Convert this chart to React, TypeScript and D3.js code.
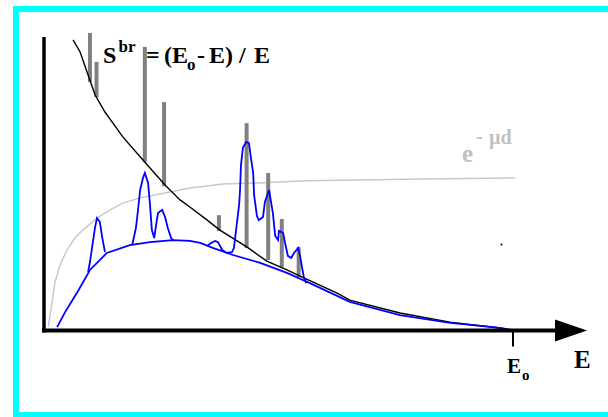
import React from 'react';
import * as d3 from 'd3';

// E runs from 0 to E0 (=100, arbitrary units), intensity 0..100
const E0 = 100;

// characteristic lines (gray bars): energy, top, and foot on the S^br curve
const lineEnergy = [9.8, 11.2, 21.5, 25.6, 37.3, 43.2, 47.8, 50.7, 54.3];
const lineTop = [101.4, 91.5, 96.6, 77.8, 39.2, 70.6, 53.6, 37.9, 28.3];
const lineBase = [84.6, 79.5, 57.3, 49.1, 33.8, 28.0, 23.9, 21.5, 18.1];

// S^br = (E0 - E) / E  (black)
const bremsCurve: [number, number][] = [
  [6.2, 99.0], [7.7, 94.9], [9.4, 87.0], [10.9, 80.2], [13.0, 74.4], [14.7, 70.6],
  [16.8, 65.9], [21.1, 58.0], [25.8, 49.5], [29.0, 44.4], [31.1, 42.0], [34.8, 37.5],
  [37.5, 34.1], [43.3, 28.3], [47.5, 23.5], [51.8, 20.5], [54.6, 18.4], [62.5, 12.6],
  [65.2, 10.2], [75.9, 5.8], [86.6, 2.7], [97.2, 0.7], [100, 0],
];

// e^-μd attenuation (light gray)
const attenuation: [number, number][] = [
  [0.9, 1.0], [1.3, 5.1], [2.3, 16.0], [3.4, 22.2], [4.9, 27.3], [6.6, 31.4],
  [8.3, 34.1], [11.3, 38.2], [14.1, 41.0], [16.8, 43.3], [20.5, 45.1], [26.9, 47.1],
  [31.1, 48.5], [38.2, 49.8], [45.6, 50.2], [56.1, 50.9], [80.8, 51.5], [100.4, 51.9],
];

// measured continuum (blue)
const continuum: [number, number][] = [
  [2.8, 1.0], [4.5, 6.1], [7.0, 12.6], [9.8, 20.5], [13.4, 26.3], [18.3, 29.0],
  [22.6, 30.0], [27.5, 30.7], [31.1, 30.4], [33.3, 29.7], [36.0, 28.0], [40.3, 25.6],
  [46.1, 22.9], [51.8, 19.5], [56.7, 16.0], [65.2, 9.6], [75.9, 5.1], [86.6, 2.4],
  [97.2, 0.7], [98.7, 0.3],
];

// measured peaks (blue) on top of the continuum
const peakA: [number, number][] = [
  [9.4, 19.8], [9.8, 23.2], [10.4, 29.7], [10.9, 35.2], [11.3, 38.2], [11.9, 36.9],
  [12.4, 31.7], [13.0, 26.6],
];
const peakBC: [number, number][] = [
  [18.8, 29.0], [19.6, 34.8], [20.0, 40.3], [20.5, 47.8], [21.1, 51.9], [21.5, 53.6],
  [22.2, 50.2], [22.6, 42.7], [23.0, 34.1], [23.5, 31.4], [23.9, 35.8], [24.3, 39.9],
  [25.2, 41.0], [25.8, 38.6], [26.4, 34.8], [27.1, 31.4], [27.5, 30.7],
];
const peakD: [number, number][] = [
  [34.8, 28.7], [35.6, 29.7], [36.5, 30.4], [37.1, 30.0], [38.0, 27.3], [39.0, 26.3],
  [40.1, 26.6], [40.5, 28.0], [40.9, 33.4], [41.6, 42.7], [41.8, 47.8], [42.0, 56.3],
  [42.4, 62.1], [43.1, 64.2], [43.7, 63.8], [44.1, 59.0], [44.6, 53.6], [44.8, 46.1],
  [45.4, 38.9], [45.8, 37.5], [46.7, 38.6], [47.1, 43.7], [48.0, 47.8], [48.2, 45.7],
  [48.8, 39.9], [49.3, 32.1], [49.9, 30.7], [50.1, 33.8], [51.0, 33.1], [51.4, 29.7],
  [52.0, 25.3], [52.7, 24.6], [53.3, 26.3], [54.2, 28.0], [54.6, 25.3], [55.0, 21.5],
  [55.4, 18.1], [55.9, 16.0],
];

const W = 608;
const H = 417;
const serif = 'Liberation Serif, Times New Roman, serif';

export default function App() {
  const x = d3.scaleLinear().domain([0, E0]).range([44, 513]);
  const y = d3.scaleLinear().domain([0, 100]).range([330, 37]);

  const line = d3.line<[number, number]>()
    .x(d => x(d[0]))
    .y(d => y(d[1]));

  const axisY = y(0) + 0.5;

  return (
    <svg width={W} height={H} style={{ position: 'absolute', left: 0, top: 0, background: '#fff' }}>
      {/* frame */}
      <rect x={16} y={9} width={600} height={406} fill="none" stroke="#00ffff" strokeWidth={6} />

      {/* attenuation curve */}
      <path d={line(attenuation) || ''} fill="none" stroke="#c8c8c8" strokeWidth={1.5} />

      {/* characteristic lines */}
      {lineEnergy.map((e, i) => (
        <line key={i} x1={x(e)} x2={x(e)} y1={y(lineTop[i])} y2={y(lineBase[i])}
          stroke="#808080" strokeWidth={4} />
      ))}

      {/* bremsstrahlung */}
      <path d={line(bremsCurve) || ''} fill="none" stroke="#000" strokeWidth={1.4} />

      {/* measured spectrum */}
      <path d={line(continuum) || ''} fill="none" stroke="#0000ff" strokeWidth={1.8} />
      {[peakA, peakBC, peakD].map((p, i) => (
        <path key={i} d={line(p) || ''} fill="none" stroke="#0000ff" strokeWidth={1.8} />
      ))}

      {/* axes */}
      <line x1={44} x2={44} y1={37} y2={axisY + 2} stroke="#000" strokeWidth={3.5} />
      <line x1={42} x2={560} y1={axisY} y2={axisY} stroke="#000" strokeWidth={4} />
      <path d={`M555,${axisY - 11}L587,${axisY}L555,${axisY + 11}Z`} fill="#000" />
      <line x1={x(E0)} x2={x(E0)} y1={axisY} y2={axisY + 16} stroke="#000" strokeWidth={2} />
      <circle cx={501.5} cy={244.5} r={1} fill="#000" />

      {/* labels */}
      <text fontFamily={serif} fontWeight="bold" fontSize={24} fill="#000">
        <tspan x={103} y={63}>S</tspan>
        <tspan x={118.5} y={52} fontSize={17}>br</tspan>
        <tspan x={146} y={63}>=</tspan>
        <tspan x={164} y={63}>(E</tspan>
        <tspan x={187} y={70} fontSize={17}>o</tspan>
        <tspan x={197} y={63}>-</tspan>
        <tspan x={209} y={63}>E)</tspan>
        <tspan x={239} y={63}>/</tspan>
        <tspan x={254} y={63}>E</tspan>
      </text>

      <text fontFamily={serif} fontWeight="bold" fill="#c0c0c0">
        <tspan x={462} y={162} fontSize={25}>e</tspan>
        <tspan x={476} y={143} fontSize={20}>-</tspan>
        <tspan x={489} y={144} fontSize={20}>µd</tspan>
      </text>

      <text fontFamily={serif} fontWeight="bold" fill="#000">
        <tspan x={507} y={373} fontSize={21}>E</tspan>
        <tspan x={522} y={380} fontSize={15}>o</tspan>
      </text>
      <text x={574} y={368} fontFamily={serif} fontWeight="bold" fontSize={25} fill="#000">E</text>
    </svg>
  );
}
